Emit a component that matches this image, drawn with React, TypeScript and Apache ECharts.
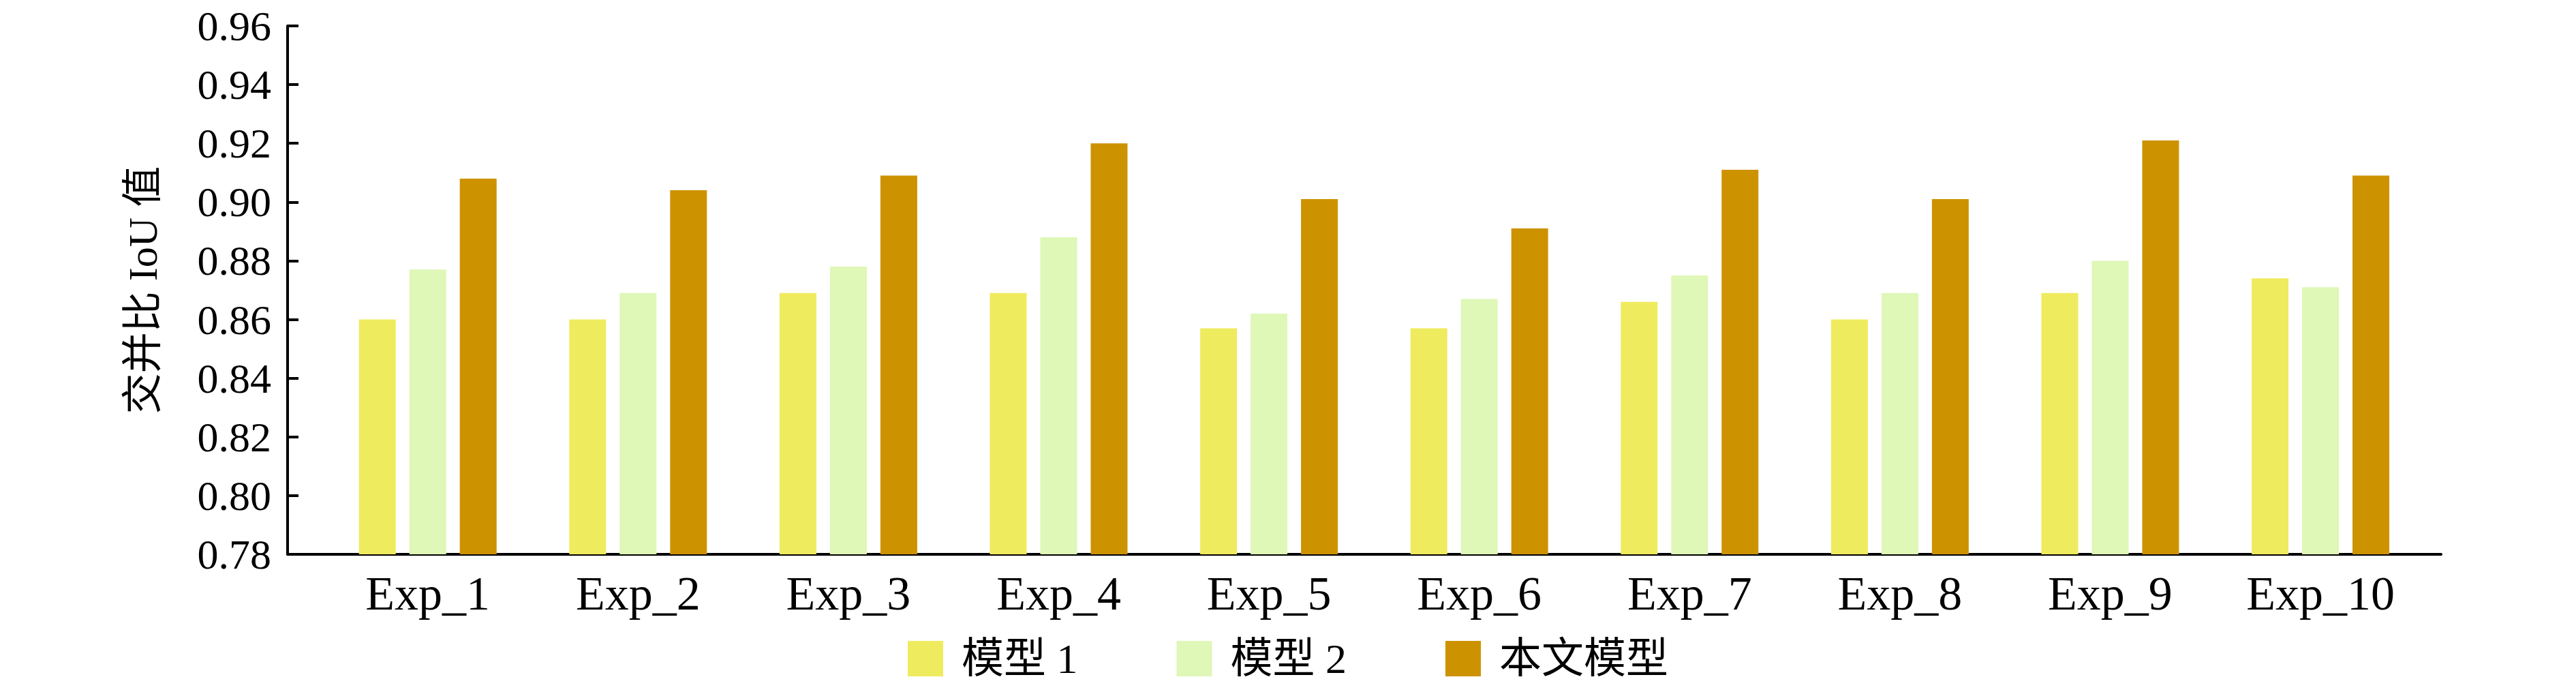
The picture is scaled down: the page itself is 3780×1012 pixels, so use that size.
import React, { useEffect, useRef } from "react";
import * as echarts from "echarts";

const categories = ["Exp_1", "Exp_2", "Exp_3", "Exp_4", "Exp_5", "Exp_6", "Exp_7", "Exp_8", "Exp_9", "Exp_10"];
const seriesNames = ["模型 1", "模型 2", "本文模型"];
const model1 = [0.860, 0.860, 0.869, 0.869, 0.857, 0.857, 0.866, 0.860, 0.869, 0.874];
const model2 = [0.877, 0.869, 0.878, 0.888, 0.862, 0.867, 0.875, 0.869, 0.880, 0.871];
const ours = [0.908, 0.904, 0.909, 0.920, 0.901, 0.891, 0.911, 0.901, 0.921, 0.909];
const yTicks = [0.78, 0.8, 0.82, 0.84, 0.86, 0.88, 0.9, 0.92, 0.94, 0.96];
const colors = ["#EFEB5E", "#DFF7B7", "#CD9200"];

// category k sits at x = 2 + 3k on the value axis (left gap 2/3 of spacing)
const xOf = (i: number) => 2 + 3 * i;

const SERIF = "'Liberation Serif', 'Noto Sans CJK SC', serif";

export default function App() {
  const ref = useRef<HTMLDivElement>(null);
  useEffect(() => {
    if (!ref.current) return;
    const chart = echarts.init(ref.current, null, { renderer: "svg" });
    const allSeries = [model1, model2, ours];
    chart.setOption({
      animation: false,
      backgroundColor: "#ffffff",
      grid: { left: 422, right: 198, top: 38, bottom: 199, containLabel: false },
      legend: {
        data: seriesNames,
        left: "center",
        bottom: 10,
        icon: "rect",
        itemWidth: 52,
        itemHeight: 52,
        itemGap: 145,
        textStyle: { fontSize: 62, fontFamily: SERIF, color: "#000", padding: [0, 0, 0, 22] },
      },
      xAxis: {
        type: "value",
        min: 0,
        max: 30.72,
        interval: 1,
        axisLine: { show: true, onZero: false, lineStyle: { color: "#000", width: 4 } },
        axisTick: { show: false },
        splitLine: { show: false },
        axisLabel: {
          show: true,
          margin: 22,
          fontSize: 70,
          fontFamily: SERIF,
          color: "#000",
          showMinLabel: true,
          showMaxLabel: true,
          formatter: (v: number) => {
            const k = (v - 2) / 3;
            const r = Math.round(k);
            if (Math.abs(k - r) < 1e-6 && r >= 0 && r < categories.length) return categories[r];
            return "";
          },
        },
      },
      yAxis: {
        type: "value",
        min: yTicks[0],
        max: yTicks[yTicks.length - 1],
        interval: 0.02,
        name: "交并比 IoU 值",
        nameLocation: "middle",
        nameGap: 182,
        nameTextStyle: { fontSize: 60, fontFamily: SERIF, color: "#000" },
        axisLine: { show: true, onZero: false, lineStyle: { color: "#000", width: 4 } },
        axisTick: { show: true, inside: true, length: 16, lineStyle: { color: "#000", width: 4 } },
        splitLine: { show: false },
        axisLabel: {
          margin: 24,
          fontSize: 62,
          lineHeight: 50,
          fontFamily: SERIF,
          color: "#000",
          formatter: (v: number) => v.toFixed(2),
        },
      },
      series: allSeries.map((vals, s) => ({
        name: seriesNames[s],
        type: "bar",
        barWidth: 54,
        barGap: "37%",
        itemStyle: { color: colors[s] },
        data: vals.map((v, i) => [xOf(i), v]),
      })),
    });
    return () => chart.dispose();
  }, []);
  return (
    <div
      ref={ref}
      style={{ position: "absolute", left: 0, top: 0, width: 3780, height: 1012, background: "#fff" }}
    />
  );
}
